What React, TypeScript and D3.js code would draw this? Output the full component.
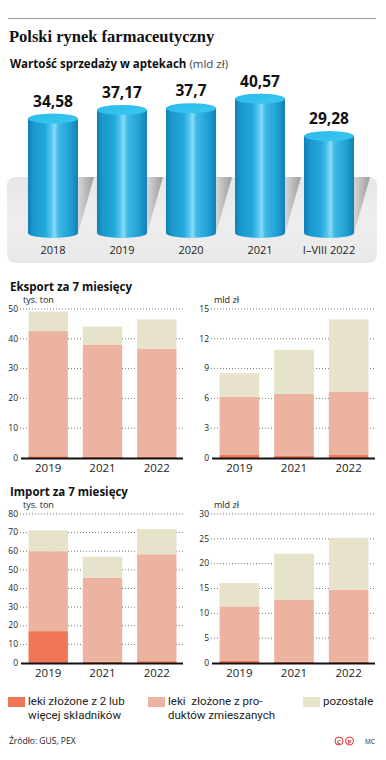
import React from "react";
import * as d3 from "d3";

const salesYears = ["2018", "2019", "2020", "2021", "I–VIII 2022"];
const salesValues = [34.58, 37.17, 37.7, 40.57, 29.28];
const salesLabels = ["34,58", "37,17", "37,7", "40,57", "29,28"];

const tradeYears = ["2019", "2021", "2022"];
const seriesNames = [
  ["leki złożone z 2 lub", "więcej składników"],
  ["leki  złożone z pro-", "duktów zmieszanych"],
  ["pozostałe"],
];
const seriesColors = ["#f07657", "#ecb4a0", "#e7e2ca"];

const exportTonsMulti = [0.6, 0.5, 0.5];
const exportTonsMixed = [42.0, 37.6, 36.2];
const exportTonsOther = [6.5, 6.0, 9.8];
const exportPlnMulti = [0.3, 0.25, 0.3];
const exportPlnMixed = [5.85, 6.2, 6.35];
const exportPlnOther = [2.4, 4.45, 7.3];
const importTonsMulti = [17.1, 0.8, 1.0];
const importTonsMixed = [42.9, 45.0, 57.4];
const importTonsOther = [11.2, 11.2, 13.5];
const importPlnMulti = [0.4, 0.3, 0.3];
const importPlnMixed = [11.0, 12.4, 14.5];
const importPlnOther = [4.7, 9.3, 10.4];

const exportTonsTicks = [0, 10, 20, 30, 40, 50];
const exportPlnTicks = [0, 3, 6, 9, 12, 15];
const importTonsTicks = [0, 10, 20, 30, 40, 50, 60, 70, 80];
const importPlnTicks = [0, 5, 10, 15, 20, 25, 30];

const SANS = "'Open Sans', sans-serif";

type PanelProps = {
  x0: number;
  x1: number;
  yBase: number;
  yTop: number;
  ticks: number[];
  unit: string;
  multi: number[];
  mixed: number[];
  other: number[];
  labelBaseline: number;
};

function StackPanel(p: PanelProps) {
  const x = d3.scaleBand<string>().domain(tradeYears).range([p.x0, p.x1]).paddingInner(0.275).paddingOuter(0.12);
  const maxT = p.ticks[p.ticks.length - 1];
  const y = d3.scaleLinear().domain([0, maxT]).range([p.yBase, p.yTop]);
  const rows = tradeYears.map((yr, i) => ({ year: yr, multi: p.multi[i], mixed: p.mixed[i], other: p.other[i] }));
  const stack = d3.stack<any>().keys(["multi", "mixed", "other"]);
  const layers = stack(rows);
  return (
    <g>
      {p.ticks.map((t) => (
        <g key={t}>
          {t > 0 && (
            <line x1={p.x0 - 2} x2={p.x1} y1={y(t)} y2={y(t)} stroke="#777" strokeWidth={1} strokeDasharray="1,2" />
          )}
          <text x={p.x0 - 4} y={y(t)} dy="0.32em" textAnchor="end" fontSize={8.5} fontFamily={SANS} fill="#222">
            {t}
          </text>
        </g>
      ))}
      <text x={p.x0 + 1} y={p.yTop - 6} fontSize={9} fontFamily={SANS} fill="#222">
        {p.unit}
      </text>
      {layers.map((layer, li) => (
        <g key={li} fill={seriesColors[li]}>
          {layer.map((d, i) => (
            <rect key={i} x={x(tradeYears[i])} width={x.bandwidth()} y={y(d[1])} height={y(d[0]) - y(d[1])} />
          ))}
        </g>
      ))}
      <line x1={p.x0 - 1} x2={p.x1} y1={p.yBase + 0.5} y2={p.yBase + 0.5} stroke="#111" strokeWidth={2} />
      {tradeYears.map((yr) => (
        <text
          key={yr}
          x={(x(yr) as number) + x.bandwidth() / 2}
          y={p.labelBaseline}
          textAnchor="middle"
          fontSize={11.5}
          fontFamily={SANS}
          fill="#222"
        >
          {yr}
        </text>
      ))}
    </g>
  );
}

export default function App() {
  const cx = d3.scaleBand<string>().domain(salesYears).range([18.5, 363.5]).paddingInner(0.275).paddingOuter(0.137);
  const cy = d3.scaleLinear().domain([0, 40]).range([233, 233 - 3.31 * 40]);
  const bw = cx.bandwidth();
  const rx = bw / 2;
  const ry = 5;
  const panelTop = 177;
  const shift = 16;

  return (
    <div style={{ position: "absolute", left: 0, top: 0 }}>
      <svg width={386} height={760} viewBox="0 0 386 760" style={{ display: "block", background: "#fff" }}>
        <defs>
          <linearGradient id="cyl" x1="0" x2="1" y1="0" y2="0">
            <stop offset="0" stopColor="#137fb2" />
            <stop offset="0.12" stopColor="#1b98cc" />
            <stop offset="0.34" stopColor="#22a7da" />
            <stop offset="0.46" stopColor="#52c3ed" />
            <stop offset="0.53" stopColor="#86dbf8" />
            <stop offset="0.61" stopColor="#3fb9e7" />
            <stop offset="0.85" stopColor="#1e9fd3" />
            <stop offset="1" stopColor="#157fb3" />
          </linearGradient>
          <linearGradient id="cylTop" x1="0" x2="1" y1="0" y2="1">
            <stop offset="0" stopColor="#2bbbea" />
            <stop offset="1" stopColor="#3ac7f1" />
          </linearGradient>
          <linearGradient id="shadow" x1="0" x2="1" y1="0" y2="0">
            <stop offset="0.7" stopColor="#e4e4e4" />
            <stop offset="1" stopColor="#9c9c9c" />
          </linearGradient>
          <linearGradient id="panel" x1="0" x2="0" y1="0" y2="1">
            <stop offset="0" stopColor="#e6e6e6" />
            <stop offset="0.5" stopColor="#eeeeee" />
            <stop offset="1" stopColor="#e9e9e9" />
          </linearGradient>
          <clipPath id="panelClip">
            <rect x={7} y={panelTop} width={370} height={86} rx={8} />
          </clipPath>
        </defs>

        <line x1={8} x2={376} y1={18.5} y2={18.5} stroke="#9a9a9a" strokeWidth={1} />
        <text x={9} y={42} fontFamily="'Liberation Serif', serif" fontWeight="bold" fontSize={16.5} fill="#111">
          Polski rynek farmaceutyczny
        </text>
        <text x={10} y={68} fontFamily={SANS} fontSize={11.5} fill="#111">
          <tspan fontWeight="bold">Wartość sprzedaży w aptekach</tspan>
          <tspan fill="#444"> (mld zł)</tspan>
        </text>

        <rect x={7} y={panelTop} width={370} height={86} rx={8} fill="url(#panel)" />
        <g clipPath="url(#panelClip)">
          {salesYears.map((yr) => {
            const x0 = cx(yr) as number;
            const x1 = x0 + bw;
            const base = cy(0);
            const k = shift * ((base - panelTop) / 56);
            return (
              <polygon
                key={yr}
                points={`${x0},${base} ${x1},${base} ${x1 + k},${panelTop} ${x0 + k},${panelTop}`}
                fill="url(#shadow)"
              />
            );
          })}
        </g>

        {salesYears.map((yr, i) => {
          const x0 = cx(yr) as number;
          const c = x0 + rx;
          const top = cy(salesValues[i]);
          const base = cy(0);
          return (
            <g key={yr}>
              <path
                d={`M${x0},${top} L${x0},${base} A${rx},${ry} 0 0 0 ${x0 + bw},${base} L${x0 + bw},${top} Z`}
                fill="url(#cyl)"
              />
              <ellipse cx={c} cy={top} rx={rx} ry={ry} fill="url(#cylTop)" />
              <text x={c} y={top - 12} textAnchor="middle" fontFamily={SANS} fontWeight="bold" fontSize={15.5} fill="#111">
                {salesLabels[i]}
              </text>
              <text x={c} y={254} textAnchor="middle" fontFamily={SANS} fontSize={11} fill="#222">
                {yr}
              </text>
            </g>
          );
        })}

        <text x={10} y={291} fontFamily={SANS} fontWeight="bold" fontSize={11.5} fill="#111">
          Eksport za 7 miesięcy
        </text>
        <StackPanel
          x0={22}
          x1={183}
          yBase={458}
          yTop={309}
          ticks={exportTonsTicks}
          unit="tys. ton"
          multi={exportTonsMulti}
          mixed={exportTonsMixed}
          other={exportTonsOther}
          labelBaseline={472}
        />
        <StackPanel
          x0={213}
          x1={375}
          yBase={458}
          yTop={309}
          ticks={exportPlnTicks}
          unit="mld zł"
          multi={exportPlnMulti}
          mixed={exportPlnMixed}
          other={exportPlnOther}
          labelBaseline={472}
        />

        <text x={10} y={496} fontFamily={SANS} fontWeight="bold" fontSize={11.5} fill="#111">
          Import za 7 miesięcy
        </text>
        <StackPanel
          x0={22}
          x1={183}
          yBase={663}
          yTop={514}
          ticks={importTonsTicks}
          unit="tys. ton"
          multi={importTonsMulti}
          mixed={importTonsMixed}
          other={importTonsOther}
          labelBaseline={677}
        />
        <StackPanel
          x0={213}
          x1={375}
          yBase={663}
          yTop={514}
          ticks={importPlnTicks}
          unit="mld zł"
          multi={importPlnMulti}
          mixed={importPlnMixed}
          other={importPlnOther}
          labelBaseline={677}
        />

        {seriesNames.map((lines, i) => {
          const lx = [8, 148, 303][i];
          return (
            <g key={i}>
              <rect x={lx} y={697} width={17} height={10} fill={seriesColors[i]} />
              {lines.map((l, j) => (
                <text
                  key={j}
                  x={lx + 20}
                  y={705.3 + j * 13.7}
                  fontFamily="Roboto, sans-serif"
                  fontSize={11.5}
                  fill="#222"
                  style={{ whiteSpace: "pre" }}
                >
                  {l}
                </text>
              ))}
            </g>
          );
        })}

        <text x={9} y={744} fontFamily={SANS} fontSize={8.5} fill="#222">
          Źródło: GUS, PEX
        </text>
        <g fill="none" stroke="#e0332c" strokeWidth={1}>
          <circle cx={339} cy={741} r={4} />
          <circle cx={349.5} cy={741} r={4} />
        </g>
        <text x={339} y={743.5} textAnchor="middle" fontFamily={SANS} fontWeight="bold" fontSize={6} fill="#e0332c">C</text>
        <text x={349.5} y={743.5} textAnchor="middle" fontFamily={SANS} fontWeight="bold" fontSize={6} fill="#e0332c">P</text>
        <text x={365} y={744} fontFamily={SANS} fontSize={6.5} fill="#222">MC</text>
      </svg>
    </div>
  );
}
